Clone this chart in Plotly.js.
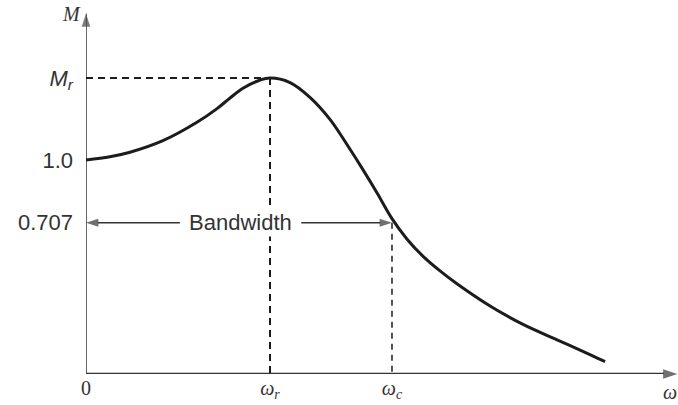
<!DOCTYPE html>
<html>
<head>
<meta charset="utf-8">
<script src="https://cdn.plot.ly/plotly-3.0.1.min.js"></script>
<style>html,body{margin:0;padding:0;background:#fff}#chart{width:678px;height:405px}</style>
</head>
<body>
<div id="chart"></div>
<script>
// frequency (normalised so that omega_r = 1) and magnitude M
const omega = [0, 0.130, 0.239, 0.418, 0.603, 0.712, 0.783, 0.853, 0.929, 1.0, 1.109, 1.217, 1.326, 1.435, 1.505, 1.582, 1.663, 1.745, 1.832, 1.924, 2.016, 2.196, 2.375, 2.560, 2.739, 2.821];
const magnitude = [1.0, 1.015, 1.036, 1.090, 1.176, 1.240, 1.290, 1.335, 1.368, 1.383, 1.362, 1.293, 1.190, 1.050, 0.955, 0.846, 0.726, 0.630, 0.550, 0.482, 0.422, 0.318, 0.232, 0.160, 0.091, 0.058];

const wr = 1.0;       // resonant frequency
const wc = 1.663;     // cut-off frequency
const Mr = 1.383;     // resonant peak
const cutoff = 0.707;

const xTickVals = [0, wr, wc];
const xTickText = ['0', '<i>ω<sub>r</sub></i>', '<i>ω<sub>c</sub></i>'];
const yTickVals = [cutoff, 1.0, Mr];
const yTickText = ['0.707', '1.0', '<i>M<sub>r</sub></i>'];

const serif = 'Liberation Serif, DejaVu Serif, serif';
const sans = 'Liberation Sans, Arial, sans-serif';
const ink = '#1c1c1c';

const xMax = 3.2174, yMax = 1.7477;

function arrowLine(xs, ys, color, width, head) {
  return {x: xs, y: ys, type: 'scatter', mode: 'lines+markers', cliponaxis: false,
    line: {color: color, width: width},
    marker: {symbol: 'arrow', angleref: 'previous', size: [0, head], color: color,
             line: {width: 0}},
    hoverinfo: 'skip'};
}

const traces = [
  // axes with arrowheads
  arrowLine([0, 0], [0, 1.685], '#444', 1.6, 14),
  arrowLine([0, 3.214], [0, 0], '#333', 2.6, 15),
  // bandwidth arrows
  arrowLine([0.51, 0.0], [cutoff, cutoff], '#333', 1.6, 13),
  arrowLine([1.17, wc], [cutoff, cutoff], '#333', 1.6, 13),
  // response curve
  {x: omega, y: magnitude, type: 'scatter', mode: 'lines',
   line: {color: ink, width: 3, shape: 'spline', smoothing: 1}, hoverinfo: 'skip'},
  // Mr horizontal dashed
  {x: [0, wr], y: [Mr, Mr], type: 'scatter', mode: 'lines',
   line: {color: ink, width: 2, dash: '7px,5px'}, hoverinfo: 'skip'},
  // omega_r vertical dashed
  {x: [wr, wr], y: [Mr, 0], type: 'scatter', mode: 'lines',
   line: {color: ink, width: 2, dash: '7px,5px'}, hoverinfo: 'skip'},
  // omega_c vertical dashed
  {x: [wc, wc], y: [cutoff, 0], type: 'scatter', mode: 'lines',
   line: {color: ink, width: 1.5, dash: '6px,5px'}, hoverinfo: 'skip'}
];

const annotations = [
  {x: 0.837, y: cutoff, xref: 'x', yref: 'y', showarrow: false,
   text: 'Bandwidth', font: {family: sans, size: 22, color: '#333'}, bgcolor: '#fff'},
  // axis names
  {x: -0.025, y: 0.962, xref: 'paper', yref: 'paper', showarrow: false,
   xanchor: 'center', yanchor: 'middle',
   text: '<i>M</i>', font: {family: serif, size: 20, color: '#333'}},
  {x: 0.986, y: 0, xref: 'paper', yref: 'paper', showarrow: false, yshift: -18,
   xanchor: 'center', yanchor: 'middle',
   text: '<i>ω</i>', font: {family: serif, size: 20, color: '#333'}}
];

const layout = {
  width: 678, height: 405,
  margin: {l: 86, r: 0, t: 0, b: 31},
  paper_bgcolor: '#fff', plot_bgcolor: '#fff',
  showlegend: false,
  xaxis: {range: [0, xMax], showgrid: false, zeroline: false, showline: false,
    tickmode: 'array', tickvals: xTickVals, ticktext: xTickText, ticks: '',
    tickfont: {family: serif, size: 20, color: '#333'}, fixedrange: true},
  yaxis: {range: [0, yMax], showgrid: false, zeroline: false, showline: false,
    tickmode: 'array', tickvals: yTickVals, ticktext: yTickText, ticks: '',
    ticklabelstandoff: 12,
    tickfont: {family: sans, size: 22, color: '#333'}, fixedrange: true},
  annotations: annotations
};

Plotly.newPlot('chart', traces, layout, {displayModeBar: false, staticPlot: true});
</script>
</body>
</html>
